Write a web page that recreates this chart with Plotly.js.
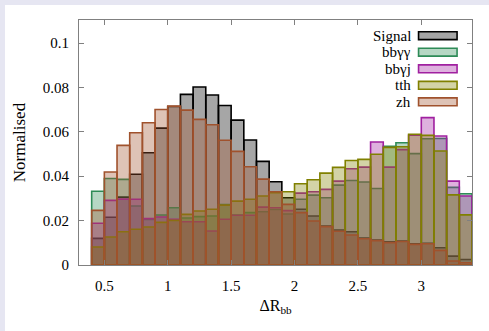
<!DOCTYPE html>
<html>
<head>
<meta charset="utf-8">
<script src="https://cdn.plot.ly/plotly-3.0.1.min.js"></script>
<style>
html,body{margin:0;padding:0;background:#e6e6f2;width:489px;height:331px;overflow:hidden;}
#plot{position:absolute;left:5px;top:5px;width:484px;height:326px;background:#ffffff;}
</style>
</head>
<body>
<div id="plot"></div>
<script>
// Bin centres of Delta R_bb (bin width 0.1, from 0.4 to 3.4)
const binCenters = [0.45,0.55,0.65,0.75,0.85,0.95,1.05,1.15,1.25,1.35,1.45,1.55,1.65,1.75,1.85,1.95,2.05,2.15,2.25,2.35,2.45,2.55,2.65,2.75,2.85,2.95,3.05,3.15,3.25,3.35];
const binWidth = 0.1;

const seriesNames = ["Signal", "bbγγ", "bbγj", "tth", "zh"];

const signal = [0.0120,0.0215,0.0306,0.0409,0.0506,0.0617,0.0714,0.0769,0.0802,0.0766,0.0719,0.0653,0.0563,0.0467,0.0375,0.0303,0.0251,0.0221,0.0176,0.0158,0.0150,0.0122,0.0112,0.0104,0.0108,0.0095,0.0098,0.0078,0.0040,0.0025];
const bbaa   = [0.0332,0.0390,0.0386,0.0266,0.0205,0.0225,0.0258,0.0212,0.0218,0.0221,0.0272,0.0225,0.0236,0.0240,0.0250,0.0230,0.0296,0.0315,0.0303,0.0360,0.0381,0.0374,0.0345,0.0535,0.0551,0.0502,0.0569,0.0570,0.0350,0.0321];
const bbaj   = [0.0188,0.0291,0.0297,0.0296,0.0209,0.0216,0.0206,0.0195,0.0195,0.0153,0.0206,0.0224,0.0224,0.0261,0.0258,0.0245,0.0324,0.0330,0.0341,0.0378,0.0434,0.0441,0.0554,0.0441,0.0520,0.0585,0.0664,0.0581,0.0378,0.0311];
const tth    = [0.0081,0.0126,0.0150,0.0161,0.0171,0.0192,0.0201,0.0228,0.0243,0.0251,0.0270,0.0288,0.0296,0.0311,0.0326,0.0330,0.0366,0.0384,0.0414,0.0440,0.0471,0.0476,0.0499,0.0530,0.0533,0.0589,0.0584,0.0514,0.0316,0.0226];
const zh     = [0.0246,0.0419,0.0539,0.0596,0.0641,0.0701,0.0716,0.0698,0.0656,0.0632,0.0562,0.0512,0.0443,0.0387,0.0330,0.0273,0.0236,0.0198,0.0173,0.0152,0.0135,0.0118,0.0110,0.0101,0.0106,0.0093,0.0096,0.0066,0.0018,0.0010];

const seriesValues = [signal, bbaa, bbaj, tth, zh];
const lineColors = ["#000000", "#2e8b57", "#a020a0", "#808000", "#a0522d"];
const fillColors = ["rgba(0,0,0,0.35)", "rgba(46,139,87,0.35)", "rgba(160,32,160,0.35)", "rgba(128,128,0,0.35)", "rgba(160,82,45,0.35)"];

const xTickVals = [0.5,1,1.5,2,2.5,3];
const xTickText = ["0.5","1","1.5","2","2.5","3"];
const yTickVals = [0,0.02,0.04,0.06,0.08,0.1];
const yTickText = ["0","0.02","0.04","0.06","0.08","0.1"];

const FONT = "'Liberation Serif', 'Times New Roman', serif";

const traces = seriesValues.map((vals, i) => ({
  type: "bar",
  x: binCenters,
  y: vals,
  width: binWidth,
  name: seriesNames[i],
  marker: {color: fillColors[i], line: {color: lineColors[i], width: 1.6}},
  showlegend: false,
  hoverinfo: "skip"
}));

// Manual gnuplot-style key (text on the left, wide swatch on the right)
const shapes = [];
const annotations = [];
const keyTop = 0.936, keyStep = 0.0675;
seriesNames.forEach((nm, i) => {
  const yc = keyTop - i * keyStep;
  shapes.push({type: "rect", xref: "paper", yref: "paper",
    x0: 0.864, x1: 0.962, y0: yc - 0.016, y1: yc + 0.016,
    fillcolor: fillColors[i], line: {color: lineColors[i], width: 1.6}});
  annotations.push({xref: "paper", yref: "paper", x: 0.847, y: yc,
    xanchor: "right", yanchor: "middle", text: nm, showarrow: false,
    borderpad: 0, height: 16, valign: "middle",
    font: {family: FONT, size: 15, color: "#000"}});
});

const layout = {
  width: 484, height: 326,
  margin: {l: 74, r: 17, t: 15, b: 66, pad: 0},
  paper_bgcolor: "#ffffff",
  plot_bgcolor: "#ffffff",
  barmode: "overlay",
  bargap: 0,
  font: {family: FONT, size: 15, color: "#000"},
  xaxis: {
    range: [0.3, 3.4],
    tickvals: xTickVals, ticktext: xTickText,
    ticks: "inside", ticklen: 5, tickcolor: "#808080",
    showline: true, linecolor: "#808080", linewidth: 1, mirror: "allticks",
    showgrid: false, zeroline: false,
    ticklabelstandoff: 7,
    tickfont: {family: FONT, size: 15, color: "#000"},
    title: {text: "ΔR<sub>bb</sub>", font: {family: FONT, size: 16, color: "#000"}, standoff: 6}
  },
  yaxis: {
    range: [0, 0.1104],
    tickvals: yTickVals, ticktext: yTickText,
    ticks: "inside", ticklen: 5, tickcolor: "#808080",
    showline: true, linecolor: "#808080", linewidth: 1, mirror: "allticks",
    showgrid: false, zeroline: false,
    ticklabelstandoff: 6,
    tickfont: {family: FONT, size: 15, color: "#000"},
    title: {text: "Normalised", font: {family: FONT, size: 17, color: "#000"}, standoff: 12}
  },
  shapes: shapes,
  annotations: annotations
};

Plotly.newPlot("plot", traces, layout, {displayModeBar: false, staticPlot: true});
</script>
</body>
</html>
